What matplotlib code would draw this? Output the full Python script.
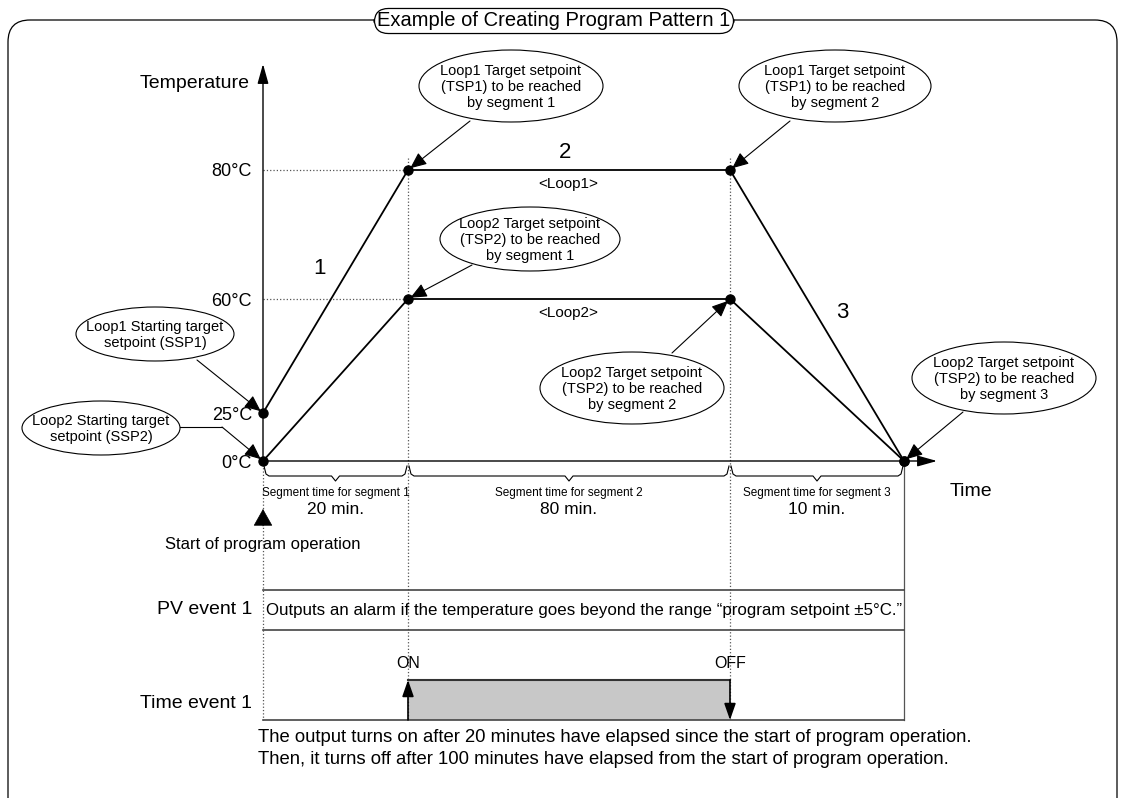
import matplotlib.pyplot as plt
import numpy as np
from matplotlib.patches import Ellipse, FancyBboxPatch, Rectangle

# program pattern data
seg_minutes = [20, 80, 10]
times = np.cumsum([0] + seg_minutes)          # 0, 20, 100, 110
loop1_temps = [25, 80, 80, 0]
loop2_temps = [0, 60, 60, 0]
temp_ticks = [0, 25, 60, 80]
event_on_off = [20, 100]

# the drawing is schematic: neither axis is to scale
time_px = [263, 408, 730, 904]
temp_px = [461, 413, 299, 170]


def tx(t):
    return np.interp(t, times, time_px)


def ty(c):
    return np.interp(c, temp_ticks, temp_px)


FONT = ["Liberation Sans Narrow", "Liberation Sans", "DejaVu Sans"]
plt.rcParams["font.family"] = ["Liberation Sans", "DejaVu Sans"]

fig = plt.figure(figsize=(11.22, 7.98), dpi=100)
ax = fig.add_axes([0, 0, 1, 1])
ax.set_xlim(0, 1122)
ax.set_ylim(798, 0)
ax.axis("off")

# outer frame and title
ax.add_patch(FancyBboxPatch((8, 20), 1109, 800, boxstyle="round,pad=0,rounding_size=22",
                            fc="none", ec="black", lw=0.9))
ax.text(554, 21, "Example of Creating Program Pattern 1", ha="center", va="center",
        fontsize=14.5, family=FONT,
        bbox=dict(boxstyle="round,pad=0.15,rounding_size=0.7", fc="white", ec="black", lw=0.9))

x0, y0 = tx(0), ty(0)
arrow = dict(arrowstyle="-|>,head_length=1.0,head_width=0.28", color="black", lw=1.0,
             mutation_scale=12, shrinkA=0, shrinkB=0)
ax.annotate("", xy=(x0, 64), xytext=(x0, y0), arrowprops=arrow)
ax.annotate("", xy=(937, y0), xytext=(x0, y0), arrowprops=arrow)
ax.text(250, 83, "Temperature", ha="right", va="center", fontsize=14)
ax.text(950, 491, "Time", ha="left", va="center", fontsize=14)

for c in temp_ticks:
    ax.text(252, ty(c) + 2, f"{c}°C", ha="right", va="center", fontsize=13)
for c in [60, 80]:
    ax.plot([x0, tx(20)], [ty(c), ty(c)], ls=":", color="#555555", lw=0.9)

# dotted guides
for t in [20, 100]:
    ax.plot([tx(t), tx(t)], [158, 720], ls=":", color="#555555", lw=0.9)
ax.plot([x0, x0], [y0, 720], ls=":", color="#555555", lw=0.9)
ax.plot([tx(110), tx(110)], [y0, 720], color="#555555", lw=0.9)

# setpoint lines
for temps in (loop1_temps, loop2_temps):
    ax.plot(tx(times), ty(temps), color="black", lw=1.3, marker="o", ms=6.5, zorder=5)

ax.text(320, 268, "1", ha="center", va="center", fontsize=16)
ax.text(565, 152, "2", ha="center", va="center", fontsize=16)
ax.text(842, 312, "3", ha="center", va="center", fontsize=16)
ax.text(568, 184, "<Loop1>", ha="center", va="center", fontsize=11)
ax.text(568, 313, "<Loop2>", ha="center", va="center", fontsize=11)

# callouts: (centre, width, height, text, arrow start, arrow target)
small = dict(arrowstyle="-|>,head_length=0.5,head_width=0.22", color="black", lw=0.8,
             mutation_scale=20, shrinkA=0, shrinkB=2)
callouts = [
    ((511, 86), 184, 72, "Loop1 Target setpoint\n(TSP1) to be reached\nby segment 1", (470, 121), (tx(20), ty(80))),
    ((835, 86), 192, 72, "Loop1 Target setpoint\n(TSP1) to be reached\nby segment 2", (790, 121), (tx(100), ty(80))),
    ((530, 239), 180, 64, "Loop2 Target setpoint\n(TSP2) to be reached\nby segment 1", (472, 265), (tx(20), ty(60))),
    ((632, 388), 184, 72, "Loop2 Target setpoint\n(TSP2) to be reached\nby segment 2", (672, 353), (tx(100), ty(60))),
    ((1004, 378), 184, 72, "Loop2 Target setpoint\n(TSP2) to be reached\nby segment 3", (963, 412), (tx(110), ty(0))),
    ((155, 334), 158, 54, "Loop1 Starting target\nsetpoint (SSP1)", (197, 360), (tx(0), ty(25))),
]
for (cx, cy), w, h, txt, start, end in callouts:
    ax.annotate("", xy=end, xytext=start, arrowprops=small, zorder=4)
    ax.add_patch(Ellipse((cx, cy), w, h, fc="white", ec="black", lw=0.8, zorder=6))
    ax.text(cx, cy + 1, txt, ha="center", va="center", fontsize=10.5, family=FONT,
            linespacing=1.2, zorder=7)

ax.add_patch(Ellipse((101, 428), 158, 54, fc="white", ec="black", lw=0.8, zorder=6))
ax.text(101, 429, "Loop2 Starting target\nsetpoint (SSP2)", ha="center", va="center",
        fontsize=10.5, family=FONT, linespacing=1.2, zorder=7)
ax.plot([180, 222], [427, 427], color="black", lw=0.8)
ax.annotate("", xy=(tx(0), ty(0)), xytext=(222, 427), arrowprops=small)

# segment braces
for i, m in enumerate(seg_minutes):
    a, b = tx(times[i]) + 1, tx(times[i + 1]) - 1
    mid = (a + b) / 2
    ax.plot([a, a + 2, a + 5, mid - 4, mid, mid + 4, b - 5, b - 2, b],
            [466, 474, 476, 476, 481, 476, 476, 474, 466], color="black", lw=0.8)
    ax.text(mid, 493, f"Segment time for segment {i + 1}", ha="center", va="center",
            fontsize=8.5, family=FONT)
    ax.text(mid, 509, f"{m} min.", ha="center", va="center", fontsize=12.5)

ax.annotate("", xy=(x0, 509), xytext=(x0, 526),
            arrowprops=dict(arrowstyle="-|>,head_length=0.8,head_width=0.45", color="black",
                            lw=0.5, mutation_scale=14, shrinkA=0, shrinkB=0))
ax.text(263, 545, "Start of program operation", ha="center", va="center", fontsize=12)

# PV event 1
for y in (590, 630):
    ax.plot([x0, tx(110)], [y, y], color="#444444", lw=1.2)
ax.text(252, 610, "PV event 1", ha="right", va="center", fontsize=14)
ax.text(266, 610, "Outputs an alarm if the temperature goes beyond the range \u201cprogram setpoint \u00b15\u00b0C.\u201d",
        ha="left", va="center", fontsize=12.2, family=FONT)

# Time event 1
on, off = tx(event_on_off[0]), tx(event_on_off[1])
ax.add_patch(Rectangle((on, 680), off - on, 40, fc="#c8c8c8", ec="none"))
ax.plot([on, off], [680, 680], color="#333333", lw=1.5)
ax.plot([x0, tx(110)], [720, 720], color="#444444", lw=1.2)
ev_arrow = dict(arrowstyle="-|>,head_length=1.0,head_width=0.35", color="black", lw=1.2,
                mutation_scale=10, shrinkA=0, shrinkB=0)
ax.annotate("", xy=(on, 680), xytext=(on, 720), arrowprops=ev_arrow)
ax.annotate("", xy=(off, 720), xytext=(off, 680), arrowprops=ev_arrow)
ax.text(on, 663, "ON", ha="center", va="center", fontsize=11.5)
ax.text(off, 663, "OFF", ha="center", va="center", fontsize=11.5)
ax.text(252, 703, "Time event 1", ha="right", va="center", fontsize=14)

ax.text(258, 737, "The output turns on after 20 minutes have elapsed since the start of program operation.",
        ha="left", va="center", fontsize=13.3)
ax.text(258, 759, "Then, it turns off after 100 minutes have elapsed from the start of program operation.",
        ha="left", va="center", fontsize=13.3)

fig.savefig("out.png", dpi=100)
